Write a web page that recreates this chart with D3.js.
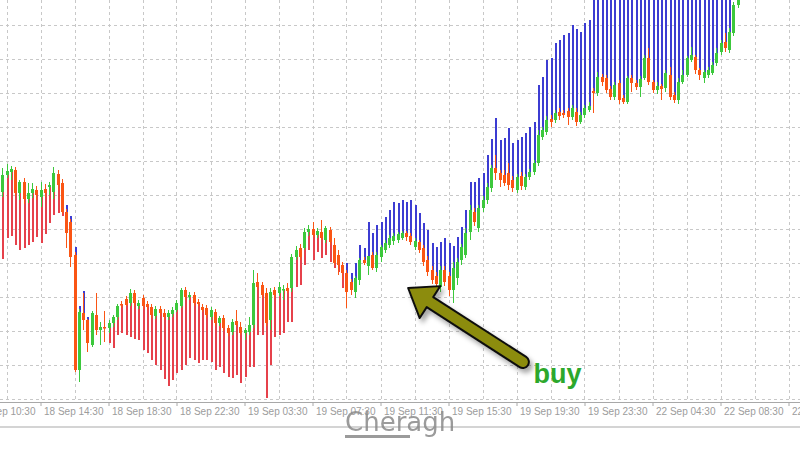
<!DOCTYPE html>
<html>
<head>
<meta charset="utf-8">
<script src="https://cdn.jsdelivr.net/npm/d3@7"></script>
<style>
  body { margin: 0; background: #fff; }
  svg { display: block; }
</style>
</head>
<body>
<svg id="chart" width="800" height="450"></svg>
<script>
// 15 minute bars, prices in points
const open = [207,224,227,229,206,217,200,206,209,202, 210,212,207,225,216,187,177,144,29,86,
  79,54,84,69,72,71,76,82,95,100, 96,106,93,101,95,92,83,90,86,82,
  85,89,93,109,102,104,97,92,91,82, 87,76,81,71,67,78,72,66,67,74,
  117,114,106,79,109,106,109,111,111,142, 151,151,167,170,164,167,159,169,154,144,
  134,126,117,107,119,139,133,144,131,142, 149,154,158,159,161,166,163,152,157,151,
  139,129,123,112,129,123,109,121,139,144, 167,187,171,191,199,211,231,226,224,226,
  219,209,223,212,222,227,236,262,267,280, 279,287,286,288,282,287,277,284,289,308,
  306,322,321,310,302,316,301,297,321,316, 312,321,341,317,309,313,311,324,304,299,
  317,324,339,342,329,321,324,326,336,347, 357,349,366,394]
const high = [231,235,233,232,219,221,216,216,213,217, 215,217,232,229,220,190,180,147,90,106,
  80,88,106,77,88,79,84,95,98,103, 110,109,99,104,98,95,93,93,90,89,
  92,99,111,112,107,107,100,95,94,92, 90,83,84,74,80,89,77,71,82,129,
  126,117,111,111,112,117,114,116,145,153, 155,171,174,177,171,179,173,172,161,149,
  137,129,120,123,141,142,143,147,147,154, 159,164,166,167,168,168,166,161,159,154,
  143,133,127,133,133,127,137,141,155,171, 194,191,194,203,216,234,244,229,229,236,
  223,225,227,225,230,239,269,272,283,284, 289,291,289,291,294,291,287,294,297,311,
  327,325,324,313,317,319,304,323,324,319, 323,344,351,319,317,315,329,332,307,321,
  329,343,352,344,331,329,332,337,351,359, 366,371,397,407]
const low = [202,221,219,203,199,195,196,201,199,192, 202,204,200,209,185,151,132,27,17,69,
  47,52,64,54,57,66,72,79,91,93, 93,93,90,90,89,81,80,83,79,79,
  82,87,91,99,99,93,93,87,81,79, 73,73,68,63,64,72,64,59,64,71,
  109,101,73,69,101,103,99,106,107,139, 139,149,163,162,161,159,156,154,134,124,
  119,91,104,101,114,134,124,129,127,137, 146,151,154,156,159,158,154,149,146,133,
  123,115,109,107,113,103,96,114,134,141, 159,173,167,187,195,207,219,212,213,209,
  207,206,209,209,219,224,233,259,264,272, 276,279,281,274,279,273,275,281,287,286,
  303,313,306,299,299,295,295,295,307,309, 302,319,314,306,305,299,307,299,296,295,
  315,322,337,325,319,316,321,324,333,344, 347,346,363,391]
const close = [224,228,230,206,217,200,206,210,204,209, 206,214,226,214,187,166,142,29,87,79,
  56,86,69,72,71,76,82,93,94,94, 106,96,96,93,92,84,90,86,82,86,
  89,96,109,102,104,96,95,89,84,89, 76,81,71,66,77,74,66,69,74,116,
  112,104,76,107,104,112,110,108,142,149, 142,167,170,164,168,161,171,157,136,134,
  126,107,109,121,139,136,143,131,144,152, 156,161,163,165,166,162,157,158,149,137,
  127,119,115,129,117,109,131,137,152,166, 189,177,191,199,212,231,226,219,216,214,
  211,222,213,222,227,236,264,269,279,277, 286,283,284,282,291,277,284,291,293,306,
  322,317,309,302,314,299,297,321,316,312, 320,341,317,309,313,310,326,302,299,317,
  324,341,344,329,324,327,329,334,346,356, 351,367,394,404]
// indicator level drawn as a vertical line from the candle
const level = [140,161,163,154,149,151,154,157,162,156, 165,176,184,186,183,194,183,152,93,108,
  82,null,null,null,null,56,51,64,66,64, 62,60,59,49,46,39,34,29,20,13,
  19,26,29,34,41,39,36,39,39,37, 29,32,26,22,21,24,16,22,32,32,
  64,64,1,34,62,64,66,77,77,112, 114,134,149,139,147,141,144,137,131,127,
  111,136,126,136,154,151,177,166,174,177, 182,189,197,196,199,197,199,194,186,176,
  169,156,152,157,161,156,153,162,172,189, 217,217,221,226,244,260,281,259,261,271,
  256,259,262,266,272,277,314,322,339,341, 356,359,364,366,374,370,367,376,379,414,
  414,414,414,414,414,414,414,414,414,414, 414,414,414,414,414,414,414,414,414,414,
  414,414,414,414,414,414,414,414,414,414, 414,414,null,null]

const tickBars = [-7, 9, 25, 41, 57, 73, 89, 105, 121, 137, 153, 169, 185]
const tickLabels = ['18 Sep 10:30', '18 Sep 14:30', '18 Sep 18:30', '18 Sep 22:30',
  '19 Sep 03:30', '19 Sep 07:30', '19 Sep 11:30', '19 Sep 15:30', '19 Sep 19:30',
  '19 Sep 23:30', '22 Sep 04:30', '22 Sep 08:30', '22 Sep 12:30']

// annotation: [bar index, price]
const arrowTail = [122.5, 37]
const arrowTip = [95.5, 111]
const noteText = 'buy'
const notePos = [125, 16]

const upColor = '#3cc83c'
const downColor = '#fa5514'
const belowColor = '#e6414b'
const aboveColor = '#3c3cd2'

const width = 800
const height = 450
const plotBottom = 401

const x = d3.scaleLinear().domain([0, 173]).range([2.25, 737.5])
const y = d3.scaleLinear().domain([0, 399]).range([399, 0])

const svg = d3.select('#chart')

svg.append('rect')
  .attr('width', width)
  .attr('height', height)
  .attr('fill', '#fff')

const defs = svg.append('defs')
defs.append('clipPath')
  .attr('id', 'plot')
  .append('rect')
  .attr('width', width)
  .attr('height', plotBottom)

const shadow = defs.append('filter')
  .attr('id', 'shadow')
  .attr('x', '-20%').attr('y', '-20%')
  .attr('width', '140%').attr('height', '140%')
shadow.append('feDropShadow')
  .attr('dx', 3).attr('dy', 4)
  .attr('stdDeviation', 2.5)
  .attr('flood-color', '#000')
  .attr('flood-opacity', 0.35)

// dashed grid
const grid = svg.append('g')
  .attr('stroke', '#c8c8c8')
  .attr('stroke-dasharray', '3,3')
  .attr('shape-rendering', 'crispEdges')

grid.selectAll('.vgrid')
  .data(d3.range(1, 190, 8))
  .join('line')
  .attr('class', 'vgrid')
  .attr('x1', d => Math.round(x(d)) + 0.5)
  .attr('x2', d => Math.round(x(d)) + 0.5)
  .attr('y1', 0)
  .attr('y2', plotBottom)

grid.selectAll('.hgrid')
  .data(d3.range(0, 400, 34))
  .join('line')
  .attr('class', 'hgrid')
  .attr('x1', 0)
  .attr('x2', width)
  .attr('y1', d => Math.round(y(d)) + 0.5)
  .attr('y2', d => Math.round(y(d)) + 0.5)

const bars = open.map((o, i) => ({
  i, o, h: high[i], l: low[i], c: close[i], lv: level[i]
}))

const plot = svg.append('g').attr('clip-path', 'url(#plot)')

// indicator lines
plot.selectAll('.level')
  .data(bars.filter(d => d.lv !== null))
  .join('line')
  .attr('class', 'level')
  .attr('x1', d => Math.round(x(d.i)) + 1)
  .attr('x2', d => Math.round(x(d.i)) + 1)
  .attr('y1', d => y((d.o + d.c) / 2))
  .attr('y2', d => y(d.lv))
  .attr('stroke', d => d.lv > d.h ? aboveColor : belowColor)
  .attr('stroke-width', 2)

// wicks
plot.selectAll('.wick')
  .data(bars)
  .join('line')
  .attr('class', 'wick')
  .attr('x1', d => Math.round(x(d.i)) + 0.5)
  .attr('x2', d => Math.round(x(d.i)) + 0.5)
  .attr('y1', d => y(d.h))
  .attr('y2', d => y(d.l))
  .attr('stroke', d => d.c >= d.o ? upColor : downColor)
  .attr('stroke-width', 1)

// bodies
plot.selectAll('.body')
  .data(bars)
  .join('rect')
  .attr('class', 'body')
  .attr('x', d => Math.round(x(d.i)) - 1)
  .attr('width', 3)
  .attr('y', d => y(Math.max(d.o, d.c)))
  .attr('height', d => Math.max(1.5, Math.abs(y(d.o) - y(d.c))))
  .attr('fill', d => d.c >= d.o ? upColor : downColor)

// time axis
svg.append('line')
  .attr('x1', 0).attr('x2', width)
  .attr('y1', 402.5).attr('y2', 402.5)
  .attr('stroke', '#a8a8a8')

const axis = svg.append('g')
  .attr('transform', 'translate(0,402)')
  .call(d3.axisBottom(x)
    .tickValues(tickBars)
    .tickFormat((d, i) => tickLabels[i])
    .tickSize(4)
    .tickSizeOuter(0))

axis.select('.domain').remove()
axis.selectAll('.tick line')
  .attr('stroke', '#a8a8a8')
axis.selectAll('.tick text')
  .attr('text-anchor', 'start')
  .attr('x', 3)
  .attr('y', 6)
  .attr('fill', '#9c9c9c')
  .style('font-family', '"Liberation Sans", Arial, sans-serif')
  .style('font-size', '10px')

svg.append('line')
  .attr('x1', 0).attr('x2', width)
  .attr('y1', 427).attr('y2', 427)
  .attr('stroke', '#d4d4d4')
  .attr('stroke-width', 2)

// watermark
const mark = svg.append('g').attr('opacity', 0.85)
mark.append('text')
  .attr('x', 345)
  .attr('y', 431)
  .attr('fill', '#8a8a8a')
  .style('font-family', '"DejaVu Sans", sans-serif')
  .style('font-size', '26px')
  .text('Cheragh')
mark.append('rect')
  .attr('x', 345).attr('y', 435)
  .attr('width', 65).attr('height', 3)
  .attr('fill', '#8a8a8a')

// buy arrow
const t = [x(arrowTail[0]), y(arrowTail[1])]
const p = [x(arrowTip[0]), y(arrowTip[1])]
const len = Math.hypot(p[0] - t[0], p[1] - t[1])
const ux = (p[0] - t[0]) / len
const uy = (p[1] - t[1]) / len
const nx = -uy
const ny = ux
const headLen = 26
const headW = 19
const shaftW = 6
const b = [p[0] - ux * headLen, p[1] - uy * headLen]
const pts = [
  [t[0] + nx * shaftW, t[1] + ny * shaftW],
  [b[0] + nx * shaftW, b[1] + ny * shaftW],
  [b[0] + nx * headW, b[1] + ny * headW],
  p,
  [b[0] - nx * headW, b[1] - ny * headW],
  [b[0] - nx * shaftW, b[1] - ny * shaftW],
  [t[0] - nx * shaftW, t[1] - ny * shaftW]
]
const arrowPath = 'M' + pts.map(q => q.join(',')).join('L') +
  `A${shaftW},${shaftW} 0 0 0 ${pts[0][0]},${pts[0][1]}Z`

svg.append('path')
  .attr('d', arrowPath)
  .attr('fill', '#8c8c0a')
  .attr('stroke', '#111')
  .attr('stroke-width', 2)
  .attr('stroke-linejoin', 'round')
  .attr('filter', 'url(#shadow)')

svg.append('text')
  .attr('x', x(notePos[0]))
  .attr('y', y(notePos[1]))
  .attr('fill', '#2ca82c')
  .style('font-family', '"Liberation Sans", Arial, sans-serif')
  .style('font-weight', 'bold')
  .style('font-size', '27px')
  .text(noteText)
</script>
</body>
</html>
